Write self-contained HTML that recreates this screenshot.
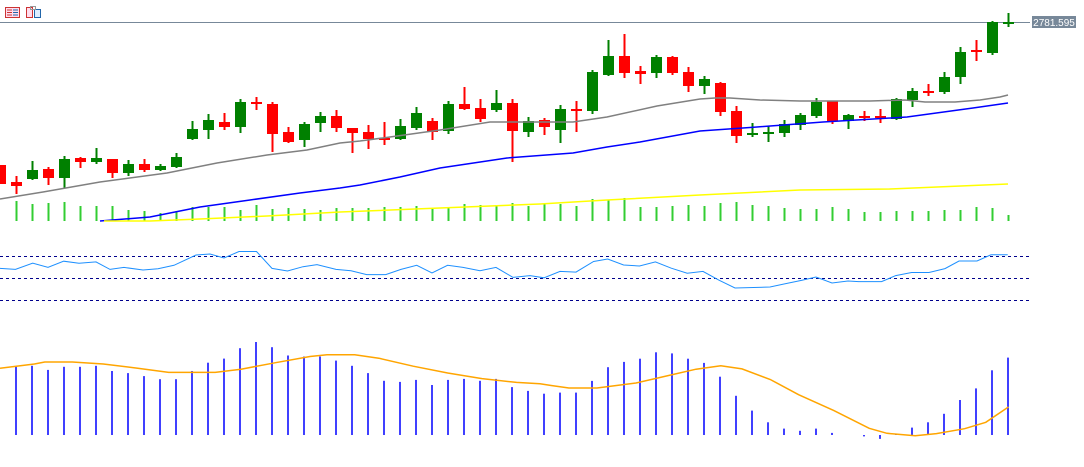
<!DOCTYPE html>
<html><head><meta charset="utf-8"><style>
html,body{margin:0;padding:0;background:#fff;width:1084px;height:467px;overflow:hidden}
svg{display:block}
</style></head><body>
<svg width="1084" height="467" viewBox="0 0 1084 467" xmlns="http://www.w3.org/2000/svg">
<rect width="1084" height="467" fill="#fff"/>
<!-- toolbar icons -->
<g stroke-width="1" fill="none">
<rect x="5.5" y="7.5" width="14" height="10" stroke="#cc3333" fill="#fde"/>
<path d="M7 10h5M7 12.5h5M7 15h5" stroke="#cc3333"/>
<path d="M13 10h5M13 12.5h5M13 15h5" stroke="#2266aa"/>
<rect x="26.5" y="7.5" width="6" height="10" stroke="#cc3333" fill="#fde"/>
<rect x="34.5" y="9.5" width="6" height="8" stroke="#2266aa" fill="#def"/>
<rect x="30.5" y="6.5" width="5" height="3" stroke="#999"/>
</g>
<!-- price line -->
<line x1="0" y1="22.5" x2="1030" y2="22.5" stroke="#778899" stroke-width="1"/>
<rect x="1032" y="16" width="44" height="12" fill="#778899"/>
<text x="1054" y="26" font-family="Liberation Sans, sans-serif" font-size="10" fill="#fff" text-anchor="middle">2781.595</text>

<!-- volume bars -->
<g fill="#32cd32">
<rect x="15.5" y="201" width="2" height="20"/><rect x="31.5" y="204" width="2" height="17"/><rect x="47.5" y="203" width="2" height="18"/><rect x="63.5" y="202" width="2" height="19"/><rect x="79.5" y="206" width="2" height="15"/><rect x="95.5" y="206" width="2" height="15"/><rect x="111.5" y="206" width="2" height="15"/><rect x="127.5" y="210" width="2" height="11"/><rect x="143.5" y="211" width="2" height="10"/><rect x="159.5" y="213" width="2" height="8"/><rect x="175.5" y="211" width="2" height="10"/><rect x="191.5" y="207" width="2" height="14"/><rect x="207.5" y="207" width="2" height="14"/><rect x="223.5" y="207" width="2" height="14"/><rect x="239.5" y="210" width="2" height="11"/><rect x="255.5" y="205" width="2" height="16"/><rect x="271.5" y="209" width="2" height="12"/><rect x="287.5" y="208" width="2" height="13"/><rect x="303.5" y="209" width="2" height="12"/><rect x="319.5" y="210" width="2" height="11"/><rect x="335.5" y="208" width="2" height="13"/><rect x="351.5" y="208" width="2" height="13"/><rect x="367.5" y="208" width="2" height="13"/><rect x="383.5" y="207" width="2" height="14"/><rect x="399.5" y="207" width="2" height="14"/><rect x="415.5" y="206" width="2" height="15"/><rect x="431.5" y="209" width="2" height="12"/><rect x="447.5" y="208" width="2" height="13"/><rect x="463.5" y="204" width="2" height="17"/><rect x="479.5" y="205" width="2" height="16"/><rect x="495.5" y="205" width="2" height="16"/><rect x="511.5" y="203" width="2" height="18"/><rect x="527.5" y="206" width="2" height="15"/><rect x="543.5" y="204" width="2" height="17"/><rect x="559.5" y="204" width="2" height="17"/><rect x="575.5" y="206" width="2" height="15"/><rect x="591.5" y="199" width="2" height="22"/><rect x="607.5" y="200" width="2" height="21"/><rect x="623.5" y="198" width="2" height="23"/><rect x="639.5" y="207" width="2" height="14"/><rect x="655.5" y="207" width="2" height="14"/><rect x="671.5" y="206" width="2" height="15"/><rect x="687.5" y="205" width="2" height="16"/><rect x="703.5" y="206" width="2" height="15"/><rect x="719.5" y="203" width="2" height="18"/><rect x="735.5" y="202" width="2" height="19"/><rect x="751.5" y="205" width="2" height="16"/><rect x="767.5" y="206" width="2" height="15"/><rect x="783.5" y="208" width="2" height="13"/><rect x="799.5" y="209" width="2" height="12"/><rect x="815.5" y="209" width="2" height="12"/><rect x="831.5" y="207" width="2" height="14"/><rect x="847.5" y="209" width="2" height="12"/><rect x="863.5" y="212" width="2" height="9"/><rect x="879.5" y="212" width="2" height="9"/><rect x="895.5" y="211" width="2" height="10"/><rect x="911.5" y="211" width="2" height="10"/><rect x="927.5" y="211" width="2" height="10"/><rect x="943.5" y="210" width="2" height="11"/><rect x="959.5" y="210" width="2" height="11"/><rect x="975.5" y="207" width="2" height="14"/><rect x="991.5" y="208" width="2" height="13"/><rect x="1007.5" y="215" width="2" height="6"/>
</g>

<!-- candles: wicks -->
<path stroke="#008000" stroke-width="2" fill="none" d="M32.5 161V180M64.5 156V188M96.5 148V164M128.5 160V176M160.5 164V171M176.5 153V168M192.5 121V140M208.5 114V139M240.5 99V133M304.5 122V147M320.5 112V132M400.5 119V140M416.5 107V130M448.5 101V134M496.5 90V112M528.5 117V137M560.5 105V143M592.5 70V114M608.5 40V76M656.5 55V78M704.5 76V94M752.5 123V137M768.5 126V142M784.5 120V137M800.5 113V130M816.5 98V118M848.5 114V129M896.5 98V120M912.5 88V107M944.5 72V94M960.5 47V84M992.5 21V55M1008.5 13V27"/>
<path stroke="#ff0000" stroke-width="2" fill="none" d="M16.5 176V194M48.5 167V185M80.5 157V168M112.5 159V178M144.5 159V172M224.5 113V130M256.5 97V110M272.5 102V152M288.5 127V143M336.5 110V132M352.5 128V153M368.5 125V149M384.5 122V145M432.5 118V140M464.5 87V110M480.5 99V122M512.5 99V162M544.5 118V135M576.5 101V132M624.5 34V78M640.5 66V84M672.5 56V75M688.5 67V92M720.5 82V116M736.5 106V143M832.5 101V124M864.5 111V121M880.5 109V123M928.5 84V96M976.5 40V61"/>
<g fill="#008000">
<rect x="27" y="170" width="11" height="9"/><rect x="59" y="159" width="11" height="19"/><rect x="91" y="158" width="11" height="4"/><rect x="123" y="164" width="11" height="9"/><rect x="155" y="166" width="11" height="4"/><rect x="171" y="157" width="11" height="10"/><rect x="187" y="129" width="11" height="10"/><rect x="203" y="120" width="11" height="10"/><rect x="235" y="102" width="11" height="25"/><rect x="299" y="124" width="11" height="16"/><rect x="315" y="116" width="11" height="7"/><rect x="395" y="126" width="11" height="13"/><rect x="411" y="113" width="11" height="15"/><rect x="443" y="104" width="11" height="27"/><rect x="491" y="103" width="11" height="7"/><rect x="523" y="121" width="11" height="11"/><rect x="555" y="109" width="11" height="21"/><rect x="587" y="72" width="11" height="39"/><rect x="603" y="56" width="11" height="19"/><rect x="651" y="57" width="11" height="16"/><rect x="699" y="79" width="11" height="7"/><rect x="747" y="133" width="11" height="2"/><rect x="763" y="132" width="11" height="2"/><rect x="779" y="124" width="11" height="9"/><rect x="795" y="115" width="11" height="10"/><rect x="811" y="102" width="11" height="14"/><rect x="843" y="115" width="11" height="6"/><rect x="891" y="99" width="11" height="20"/><rect x="907" y="91" width="11" height="9"/><rect x="939" y="77" width="11" height="15"/><rect x="955" y="52" width="11" height="25"/><rect x="987" y="22" width="11" height="31"/><rect x="1003" y="22" width="11" height="2"/>
</g>
<g fill="#ff0000">
<rect x="-5" y="165" width="11" height="19"/><rect x="11" y="182" width="11" height="4"/><rect x="43" y="169" width="11" height="9"/><rect x="75" y="158" width="11" height="4"/><rect x="107" y="159" width="11" height="14"/><rect x="139" y="164" width="11" height="6"/><rect x="219" y="122" width="11" height="5"/><rect x="251" y="102" width="11" height="2"/><rect x="267" y="104" width="11" height="30"/><rect x="283" y="132" width="11" height="10"/><rect x="331" y="116" width="11" height="12"/><rect x="347" y="128" width="11" height="5"/><rect x="363" y="132" width="11" height="7"/><rect x="379" y="138" width="11" height="2"/><rect x="427" y="121" width="11" height="11"/><rect x="459" y="104" width="11" height="5"/><rect x="475" y="108" width="11" height="11"/><rect x="507" y="103" width="11" height="28"/><rect x="539" y="120" width="11" height="7"/><rect x="571" y="109" width="11" height="2"/><rect x="619" y="56" width="11" height="17"/><rect x="635" y="71" width="11" height="3"/><rect x="667" y="57" width="11" height="16"/><rect x="683" y="72" width="11" height="14"/><rect x="715" y="83" width="11" height="29"/><rect x="731" y="111" width="11" height="25"/><rect x="827" y="101" width="11" height="20"/><rect x="859" y="116" width="11" height="2"/><rect x="875" y="116" width="11" height="2"/><rect x="923" y="91" width="11" height="2"/><rect x="971" y="50" width="11" height="2"/>
</g>

<!-- moving averages -->
<polyline fill="none" stroke="#808080" stroke-width="1.5" points="0,199 43,192 100,182 167,173 217,163 267,155 307,150 340,143 360,141 390,137 440,130 490,122 573,122 607,117 657,106 700,99 715,98 730,98 760,100 800,101 870,101 905,100 925,102 955,102 980,100 1000,97 1008,95"/>
<polyline fill="none" stroke="#0000ff" stroke-width="1.5" points="100,221 150,217 200,207 250,200 300,193 340,188 360,185 400,177 440,168 507,158 573,153 607,147 640,142 700,131 757,127 823,122 907,117 973,108 1008,103"/>
<polyline fill="none" stroke="#ffff00" stroke-width="1.5" points="104,221 150,221 200,219 267,216 340,212 440,208 540,204 607,200 700,195 800,190 890,189 1008,184"/>

<!-- RSI panel -->
<g stroke="#00008b" stroke-width="1" stroke-dasharray="3,3">
<line x1="0" y1="256.5" x2="1030" y2="256.5"/>
<line x1="0" y1="278.5" x2="1030" y2="278.5"/>
<line x1="0" y1="300.5" x2="1030" y2="300.5"/>
</g>
<polyline fill="none" stroke="#1e90ff" stroke-width="1" points="0,268.4 15.5,269.4 32.7,263.2 48,267.4 63.7,261.2 79,263.2 96,261.9 110,269.4 124,267.4 143,270 158,268.7 174,265.3 196,255 210,254 224,258 239,251.5 256.5,251.5 272,268.4 287.5,271 303,266.7 317,264.6 336,269.4 351,270.8 366.7,274.6 385.7,274.6 401,269.4 416.7,265.3 432,272.9 447.6,265.3 463,267.4 480,270.8 496,267.4 513,277.4 530,275.6 544,277.8 560,271.4 576,272.1 593.6,261.5 607.7,259 623.6,265 639.5,266 655.4,261.9 671.3,268.2 687.2,273.2 703,271.4 719,280.2 735,288 770,287 784,284 802,280.2 816,277 832,283 848,281 858.6,281.6 881.6,281.6 895.7,275.6 911.6,272.5 929,272.5 945,268.6 959,261 977,261 991,254.8 1007.7,254.8"/>

<!-- MACD panel -->
<g stroke="#0000ff" stroke-width="1.5">
<line x1="16" y1="435" x2="16" y2="366.5"/><line x1="32" y1="435" x2="32" y2="365.8"/><line x1="48" y1="435" x2="48" y2="369.9"/><line x1="64" y1="435" x2="64" y2="366.8"/><line x1="80" y1="435" x2="80" y2="366.8"/><line x1="96" y1="435" x2="96" y2="365.8"/><line x1="112" y1="435" x2="112" y2="371"/><line x1="128" y1="435" x2="128" y2="373.1"/><line x1="144" y1="435" x2="144" y2="376.1"/><line x1="160" y1="435" x2="160" y2="379.2"/><line x1="176" y1="435" x2="176" y2="379.2"/><line x1="192" y1="435" x2="192" y2="371"/><line x1="208" y1="435" x2="208" y2="362.7"/><line x1="224" y1="435" x2="224" y2="358.6"/><line x1="240" y1="435" x2="240" y2="348.2"/><line x1="256" y1="435" x2="256" y2="342"/><line x1="272" y1="435" x2="272" y2="347.2"/><line x1="288" y1="435" x2="288" y2="355.5"/><line x1="304" y1="435" x2="304" y2="356.5"/><line x1="320" y1="435" x2="320" y2="356.5"/><line x1="336" y1="435" x2="336" y2="360.6"/><line x1="352" y1="435" x2="352" y2="365.8"/><line x1="368" y1="435" x2="368" y2="373.1"/><line x1="384" y1="435" x2="384" y2="380.8"/><line x1="400" y1="435" x2="400" y2="381.9"/><line x1="416" y1="435" x2="416" y2="379.9"/><line x1="432" y1="435" x2="432" y2="385"/><line x1="448" y1="435" x2="448" y2="379.9"/><line x1="464" y1="435" x2="464" y2="378.9"/><line x1="480" y1="435" x2="480" y2="380.8"/><line x1="496" y1="435" x2="496" y2="378.9"/><line x1="512" y1="435" x2="512" y2="387.1"/><line x1="528" y1="435" x2="528" y2="390.9"/><line x1="544" y1="435" x2="544" y2="393.7"/><line x1="560" y1="435" x2="560" y2="392.6"/><line x1="576" y1="435" x2="576" y2="392.6"/><line x1="592" y1="435" x2="592" y2="380.9"/><line x1="608" y1="435" x2="608" y2="367.2"/><line x1="624" y1="435" x2="624" y2="361.9"/><line x1="640" y1="435" x2="640" y2="358.7"/><line x1="656" y1="435" x2="656" y2="352.3"/><line x1="672" y1="435" x2="672" y2="353.4"/><line x1="688" y1="435" x2="688" y2="358.7"/><line x1="704" y1="435" x2="704" y2="362.9"/><line x1="720" y1="435" x2="720" y2="376.7"/><line x1="736" y1="435" x2="736" y2="395.8"/><line x1="752" y1="435" x2="752" y2="410.6"/><line x1="768" y1="435" x2="768" y2="422.3"/><line x1="784" y1="435" x2="784" y2="428.6"/><line x1="800" y1="435" x2="800" y2="430.8"/><line x1="816" y1="435" x2="816" y2="428.6"/><line x1="832" y1="435" x2="832" y2="432.9"/><line x1="864" y1="435" x2="864" y2="436.4"/><line x1="880" y1="435" x2="880" y2="438.9"/><line x1="896" y1="435" x2="896" y2="433.9"/><line x1="912" y1="435" x2="912" y2="427.6"/><line x1="928" y1="435" x2="928" y2="422.3"/><line x1="944" y1="435" x2="944" y2="413.8"/><line x1="960" y1="435" x2="960" y2="400"/><line x1="976" y1="435" x2="976" y2="388.4"/><line x1="992" y1="435" x2="992" y2="370.3"/><line x1="1008" y1="435" x2="1008" y2="357.6"/>
</g>
<polyline fill="none" stroke="#ffa500" stroke-width="1.5" points="0,368.2 34.4,364 44.8,362 72.3,362 103.3,364 137.7,368.2 168.7,372.4 215.2,372.4 241,369.2 275.5,362.7 310,356.5 327,354.8 354.7,354.8 378.8,358.2 413.2,366.2 447.7,373 482,378.6 516.5,382.4 540,383.8 551.2,385.5 568.9,388 597,388 636,383 671.3,374.9 696,369.2 720.8,365.7 742,368.9 770.3,379.5 798.6,394.7 833.9,410.6 869.2,428.3 886.9,433.3 915.2,435.7 936.4,433.6 964.6,428.7 985.8,422.3 1008.4,407"/>
</svg>
</body></html>
